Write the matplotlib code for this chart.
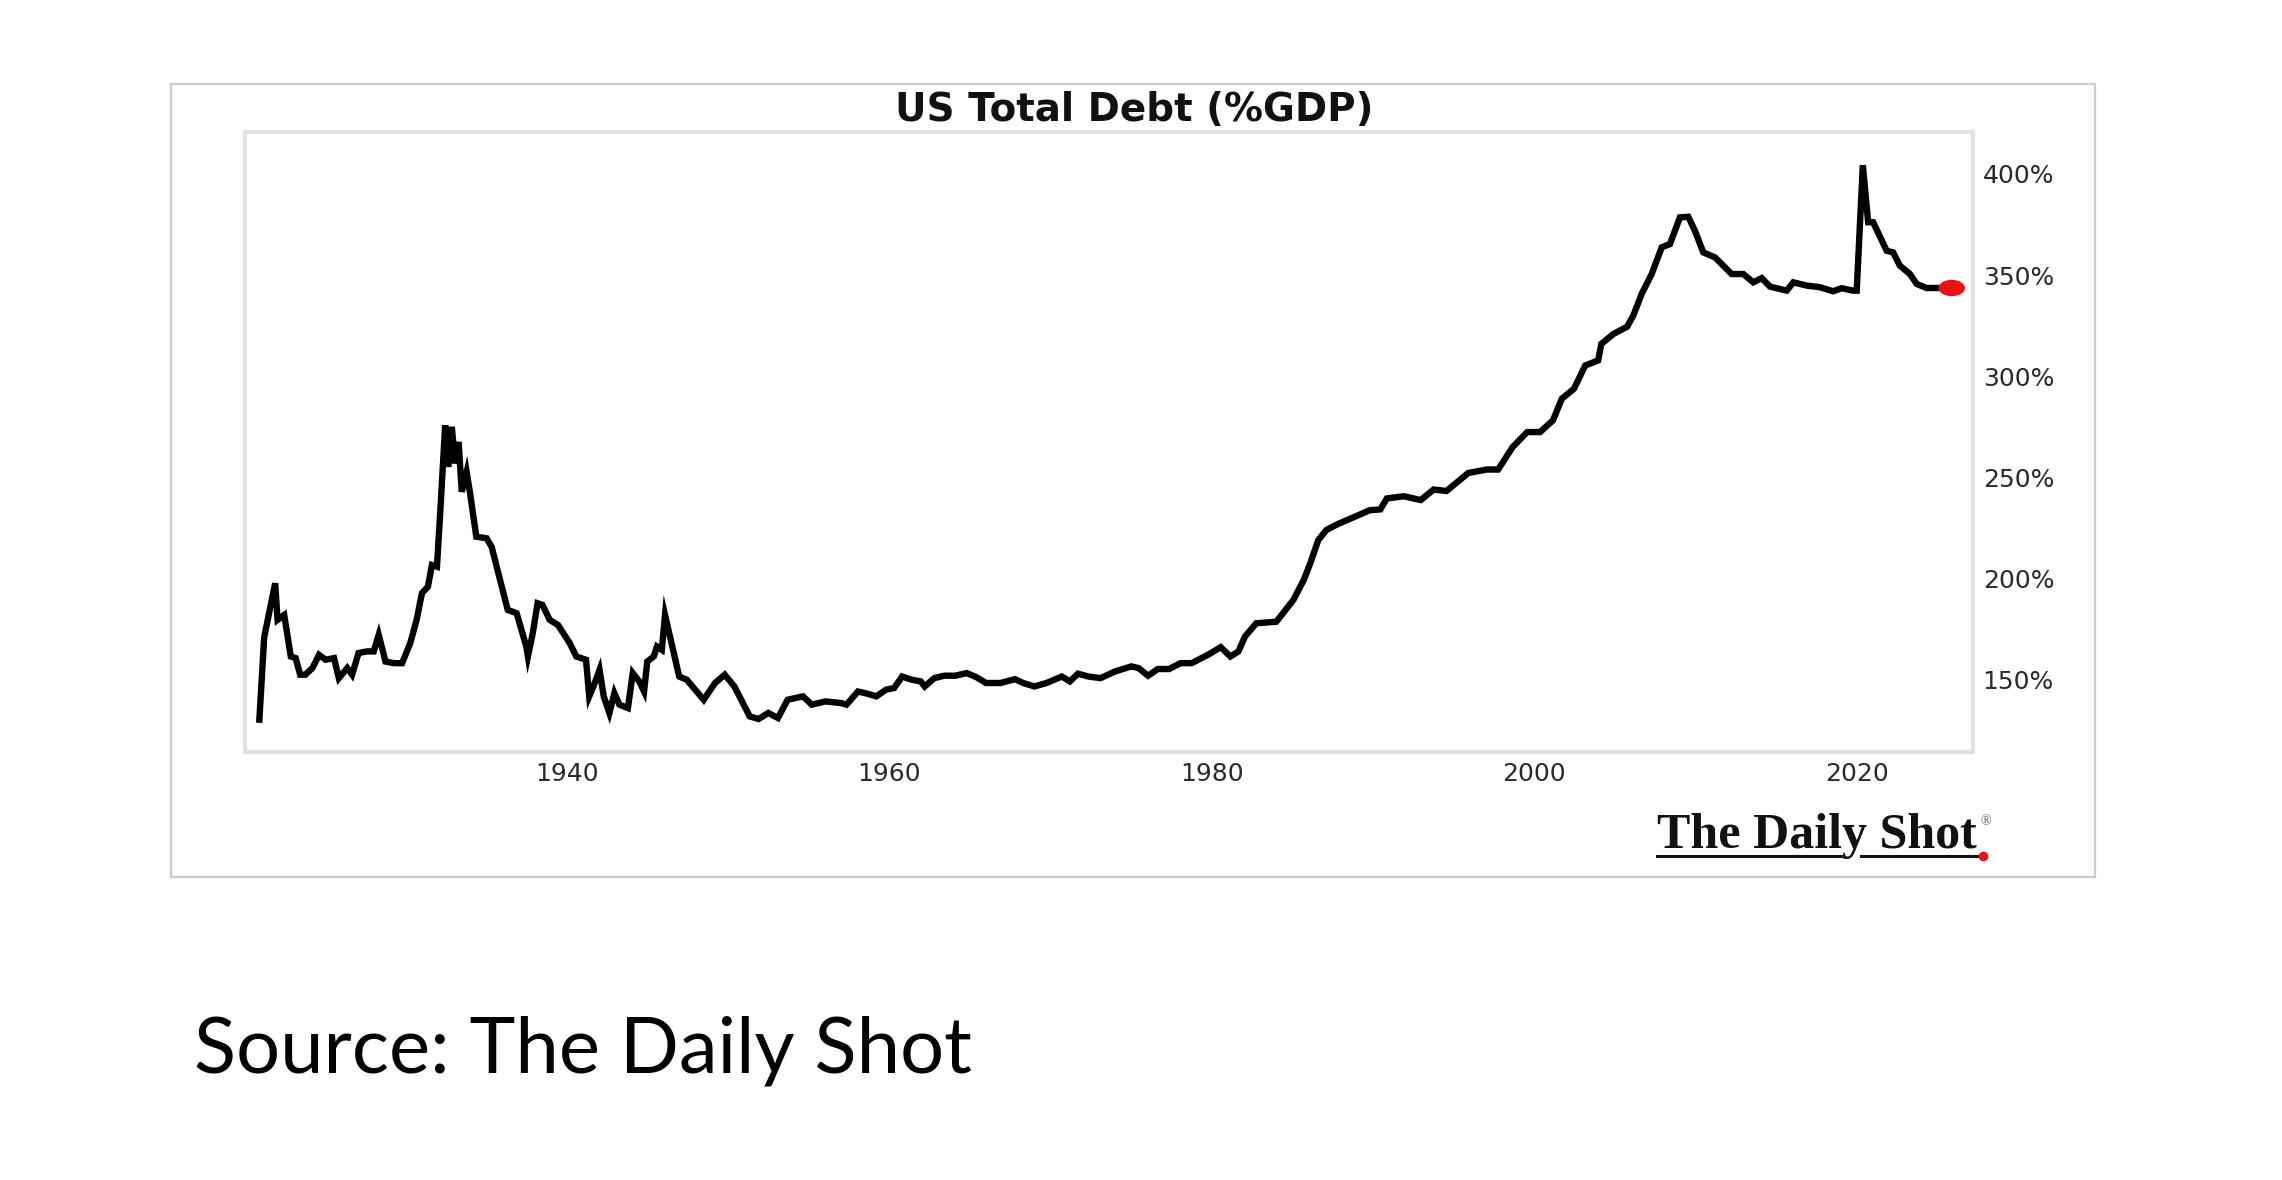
import numpy as np
import matplotlib.pyplot as plt
from matplotlib.patches import Rectangle, Ellipse
from matplotlib.lines import Line2D

# US total debt as % of GDP
years = [1920.95, 1921.25, 1921.93, 1922.08, 1922.49, 1922.9, 1923.2, 1923.48, 1923.8, 1924.24,
         1924.65, 1925.06, 1925.58, 1925.88, 1926.4, 1926.7, 1927.1, 1927.6, 1928.04, 1928.35,
         1928.77, 1929.3, 1929.8, 1930.3, 1930.7, 1931.03, 1931.4, 1931.65, 1931.96, 1932.16,
         1932.47, 1932.67, 1932.88, 1933.09, 1933.3, 1933.5, 1933.8, 1934.0, 1934.4, 1935.04,
         1935.35, 1936.35, 1936.9, 1937.5, 1937.6, 1937.9, 1938.2, 1938.5, 1938.95, 1939.46,
         1940.2, 1940.6, 1941.2, 1941.4, 1941.7, 1942.04, 1942.3, 1942.65, 1942.96, 1943.27,
         1943.8, 1944.1, 1944.5, 1944.8, 1945.0, 1945.4, 1945.6, 1945.9, 1946.1, 1946.36,
         1946.98, 1947.45, 1948.5, 1949.2, 1949.8, 1950.4, 1951.35, 1951.9, 1952.5, 1953.1,
         1953.7, 1954.65, 1955.2, 1956.05, 1957.0, 1957.35, 1958.06, 1958.65, 1959.2, 1959.8,
         1960.3, 1960.8, 1961.4, 1961.95, 1962.2, 1962.8, 1963.4, 1964.1, 1964.8, 1965.4,
         1966.0, 1966.9, 1967.8, 1968.3, 1969.0, 1969.75, 1970.7, 1971.2, 1971.7, 1972.35,
         1973.1, 1974.0, 1975.0, 1975.45, 1976.05, 1976.65, 1977.35, 1978.05, 1978.75, 1979.75,
         1980.55, 1981.15, 1981.65, 1982.05, 1982.75, 1984.0, 1985.05, 1985.7, 1986.1, 1986.6,
         1987.1, 1987.8, 1988.75, 1989.8, 1990.45, 1990.85, 1991.9, 1992.95, 1993.75, 1994.55,
         1995.9, 1997.05, 1997.75, 1998.65, 1999.55, 2000.35, 2001.15, 2001.7, 2002.45, 2003.15,
         2003.95, 2004.15, 2004.9, 2005.75, 2006.13, 2006.65, 2007.27, 2007.89, 2008.4, 2009.02,
         2009.54, 2009.95, 2010.47, 2011.2, 2012.23, 2012.95, 2013.57, 2014.09, 2014.6, 2015.64,
         2016.05, 2016.88, 2017.7, 2018.52, 2019.05, 2019.75, 2019.98, 2020.36, 2020.69, 2021.0,
         2021.84, 2022.24, 2022.66, 2023.28, 2023.7, 2024.31, 2025.14, 2025.87]
debt = [130.3, 171, 197.7, 179.6, 182, 161.5, 160.7, 152.5, 152.5, 155.8,
        162.3, 159.9, 160.7, 150.8, 155.8, 152.5, 163.2, 164, 164, 172.2,
        159, 158.2, 158.2, 168, 179.6, 192.8, 196, 206.7, 205.9, 232.2,
        275.7, 255.2, 275, 256.9, 267.5, 242.9, 252.7, 242.9, 220.7, 219.9,
        215.7, 184.5, 182.9, 166.4, 161.5, 173, 187.8, 187, 179.6, 177.1,
        168, 161.5, 159.9, 141.8, 147.5, 154.9, 141.8, 133.6, 143.4, 137.7,
        136, 153.3, 149.2, 144.2, 159, 161.5, 166.4, 164.8, 182, 173,
        151.6, 150, 140.1, 148.4, 152.5, 146.7, 131.9, 130.6, 133.6, 131.1,
        140.1, 141.8, 137.7, 139.3, 138.5, 137.7, 144.2, 143.1, 141.8, 145.1,
        145.9, 151.6, 150, 149.2, 146.7, 150.8, 152, 152, 153.3, 151.3,
        148.4, 148.4, 150.3, 148.4, 146.7, 148.4, 151.6, 149.2, 153, 151.6,
        150.8, 154.1, 156.6, 155.8, 152, 155.3, 155.3, 158.2, 158.2, 162.3,
        166.1, 161.5, 164, 171.3, 177.9, 178.7, 189.4, 199.3, 207.5, 219,
        224, 226.9, 230.2, 233.8, 234.2, 239.6, 240.7, 238.8, 244, 243.3,
        252.2, 253.9, 253.9, 265, 272.4, 272.4, 278.2, 288.9, 293.8, 305.3,
        307.8, 316, 320.9, 324.5, 330, 340.7, 350.5, 363.7, 365.3, 378.5,
        378.8, 371.9, 361.2, 358.7, 350.5, 350.5, 346.4, 348.5, 344.3, 342.3,
        346.4, 344.8, 344, 342, 343.5, 342.3, 342.3, 404.3, 376.1, 376.1,
        362, 361.2, 354.6, 350.5, 345.6, 343.6, 343.6, 343.6]

x_ticks = [1940, 1960, 1980, 2000, 2020]
y_ticks = [150, 200, 250, 300, 350, 400]
y_labels = ['150%', '200%', '250%', '300%', '350%', '400%']

W, H = 2282, 1180
fig = plt.figure(figsize=(W / 100, H / 100), dpi=100)

# outer frame of the chart image
fig.patches.append(Rectangle((171 / W, 1 - 877 / H), 1924 / W, 793 / H,
                             transform=fig.transFigure, fill=False,
                             edgecolor='#cccccc', linewidth=1.6))

ax = fig.add_axes([245 / W, 1 - 752 / H, 1728 / W, 620 / H])
ax.plot(years, debt, color='black', linewidth=4.6, solid_joinstyle='miter')
ax.add_patch(Ellipse((years[-1], debt[-1]), 1.55, 7.4, color='#ee1111', zorder=5))

ax.set_xlim(1920.06, 2027.19)
ax.set_ylim(114.3, 420.7)
ax.set_xticks(x_ticks)
ax.set_yticks(y_ticks)
ax.set_yticklabels(y_labels)
ax.yaxis.tick_right()
ax.tick_params(axis='both', length=0, labelsize=18, labelcolor='#2a2a2a')
ax.tick_params(axis='y', pad=7)
ax.tick_params(axis='x', pad=7)
for sp in ax.spines.values():
    sp.set_color('#e2e2e2')
    sp.set_linewidth(3)

fig.text(1134 / W, 1 - 110 / H, 'US Total Debt (%GDP)', ha='center', va='center',
         fontsize=28, fontweight='bold', color='#111111')

# logo in the corner
logo = fig.text(1817 / W, 1 - 848 / H, 'The Daily Shot', ha='center', va='baseline',
                fontsize=36, family='Liberation Serif', fontweight='bold', color='#111111')
fig.canvas.draw()
bb = logo.get_window_extent(fig.canvas.get_renderer())
uy = (H - 856) / H
x0, x1 = bb.x0, bb.x1
wid = x1 - x0
fig.lines.append(Line2D([x0 / W, (x0 + 0.574 * wid) / W], [uy, uy], transform=fig.transFigure,
                        color='#111111', linewidth=2.2))
fig.lines.append(Line2D([(x0 + 0.638 * wid) / W, x1 / W], [uy, uy], transform=fig.transFigure,
                        color='#111111', linewidth=2.2))
fig.lines.append(Line2D([(x1 + 6) / W], [uy], transform=fig.transFigure, marker='o',
                        markersize=6, color='#ee1111', linestyle='none'))
fig.text((x1 + 3) / W, (H - 822) / H, '®', fontsize=10, color='#555555',
         family='Liberation Serif', va='center')

fig.text(194 / W, 1 - 1073 / H, 'Source: The Daily Shot', ha='left', va='baseline',
         fontsize=56, family='Lato', color='black')

fig.savefig('out.png', dpi=100)
